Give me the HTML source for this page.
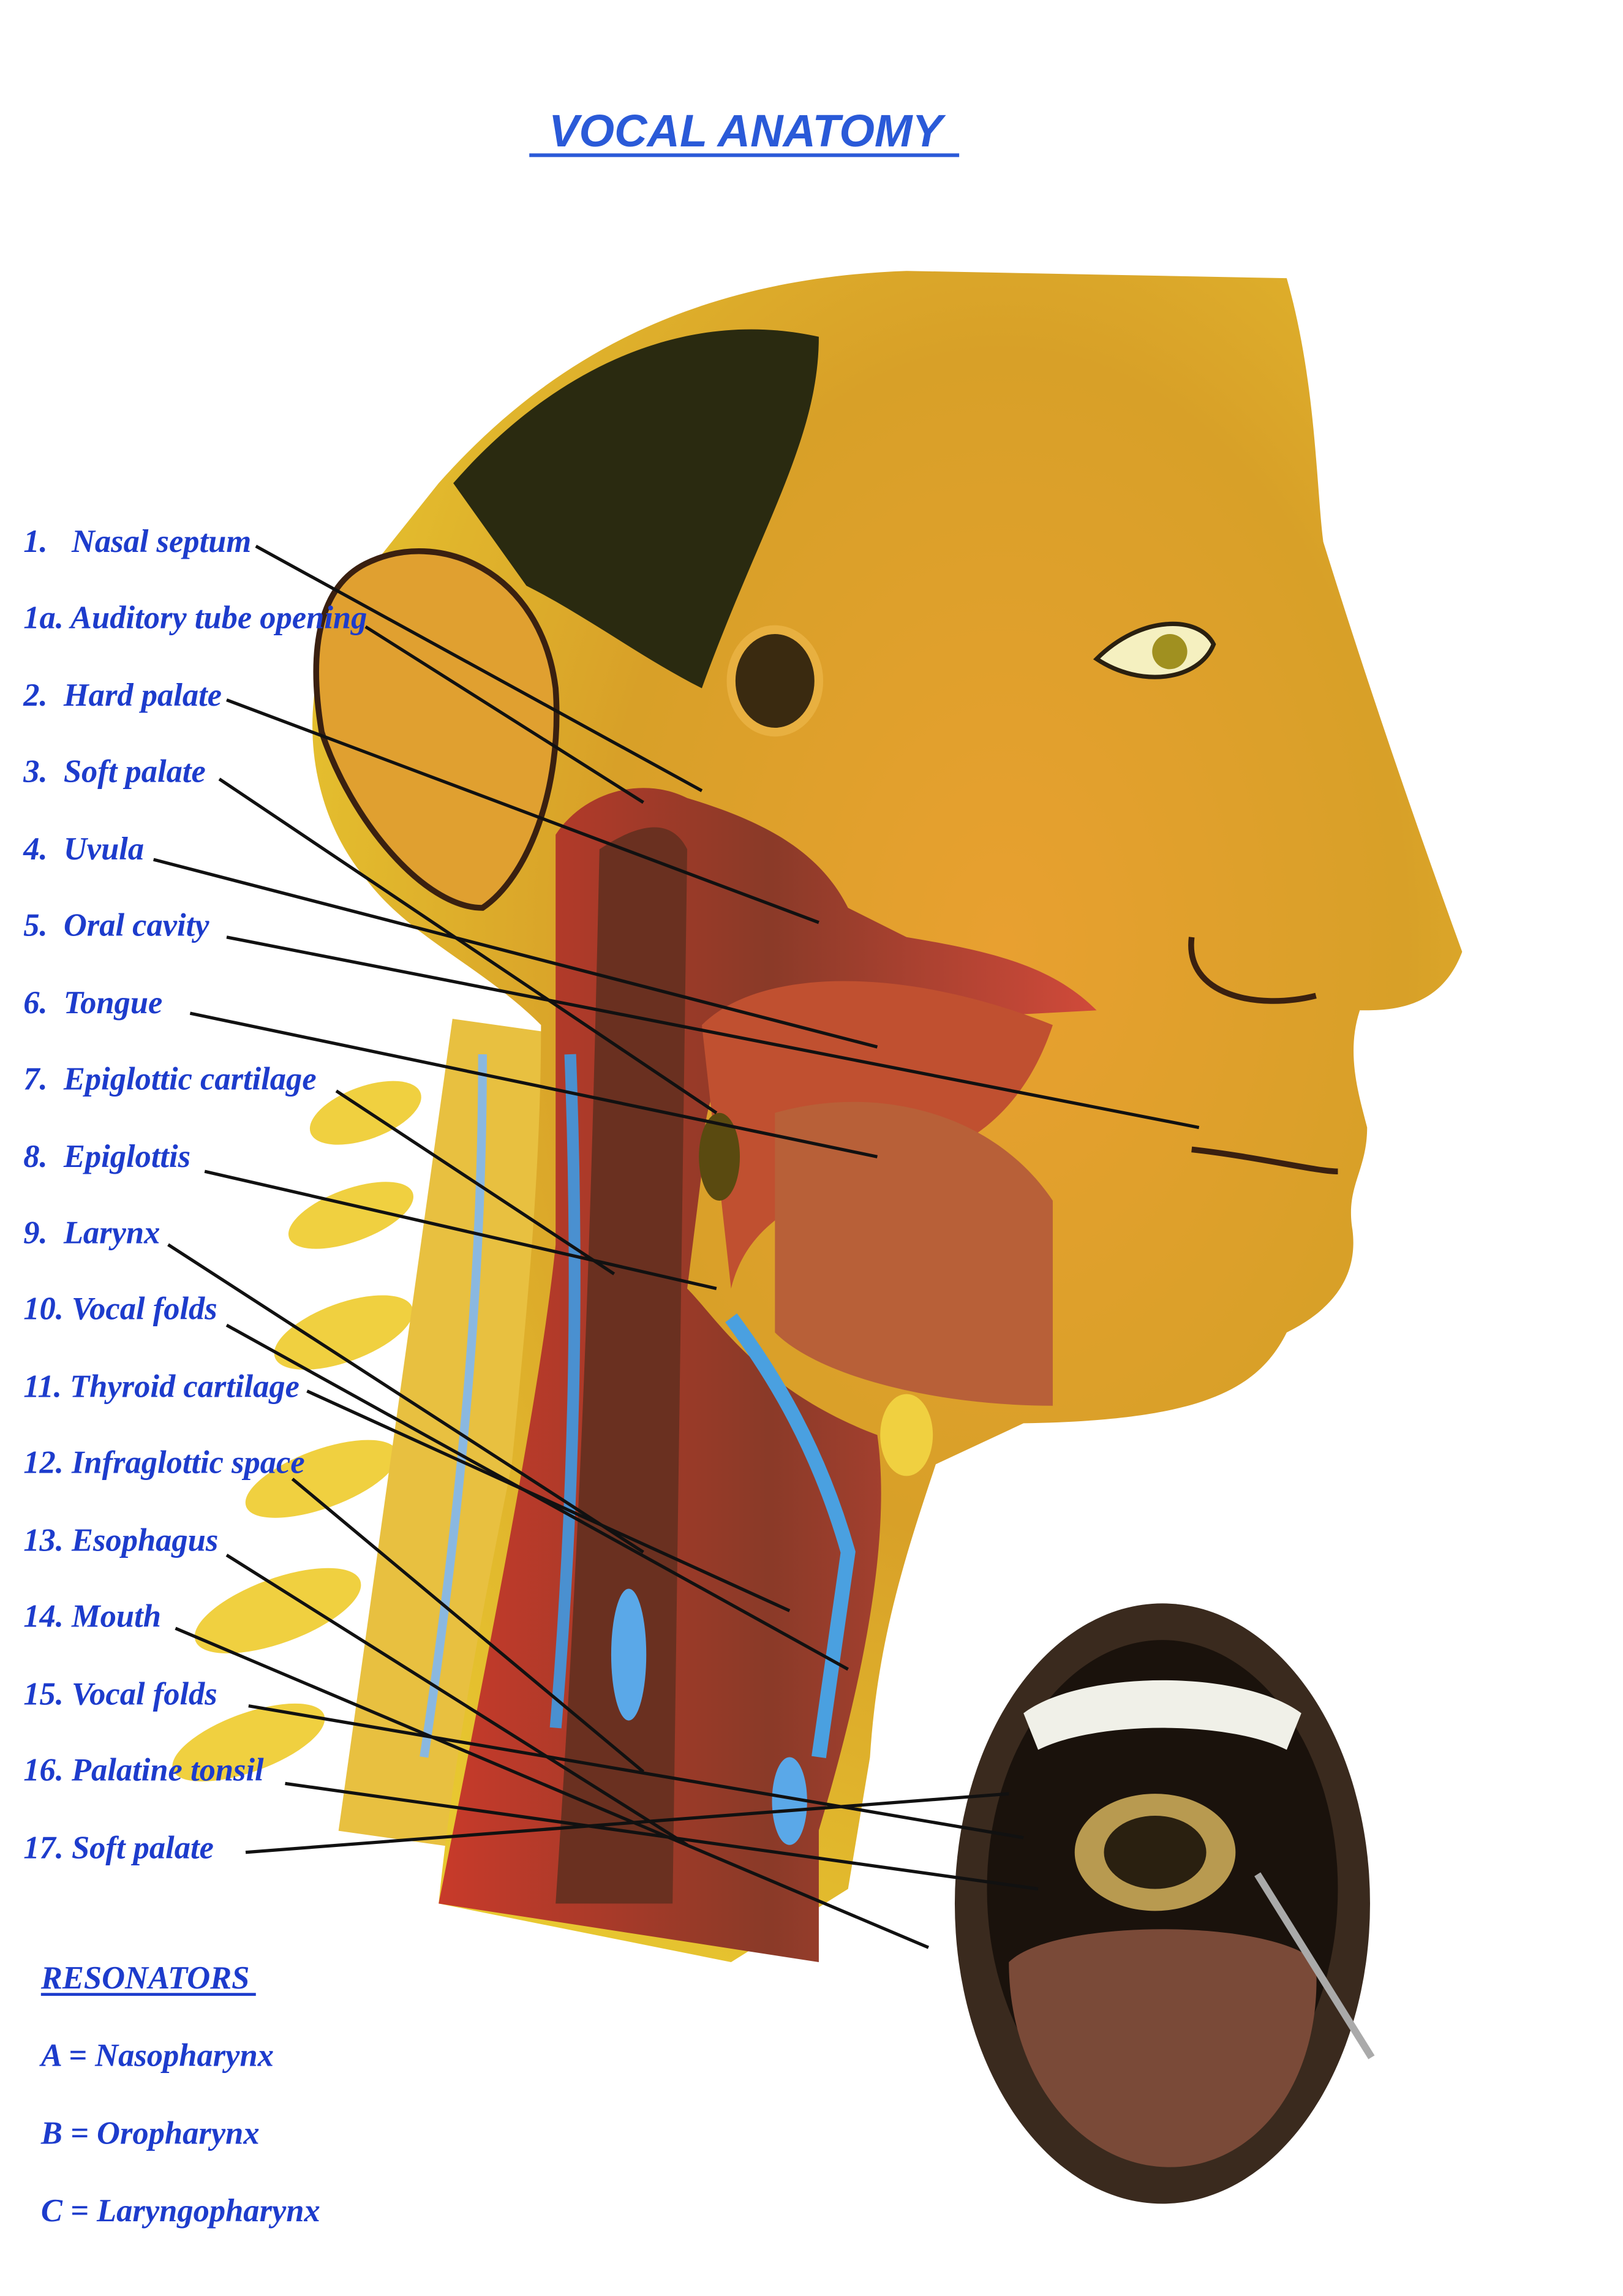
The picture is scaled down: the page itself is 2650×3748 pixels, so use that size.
<!DOCTYPE html>
<html><head><meta charset="utf-8"><style>
html,body{margin:0;padding:0;background:#fff;}
svg{display:block;}
.l{font-family:"Liberation Serif",serif;font-weight:bold;font-style:italic;font-size:22px;fill:#1d3ccc;white-space:pre;}
</style></head><body>
<svg width="2650" height="3748" viewBox="0 0 1110 1568" preserveAspectRatio="none" xmlns="http://www.w3.org/2000/svg">
<defs>
<radialGradient id="face" cx="0.6" cy="0.4" r="0.7">
<stop offset="0" stop-color="#e8a030"/><stop offset="0.5" stop-color="#d8a028"/><stop offset="1" stop-color="#e8c830"/>
</radialGradient>
<linearGradient id="neck" x1="0" y1="0" x2="1" y2="0">
<stop offset="0" stop-color="#c83a2a"/><stop offset="0.5" stop-color="#8a3a28"/><stop offset="1" stop-color="#d04a3a"/>
</linearGradient>
</defs>
<rect width="1110" height="1568" fill="#fff"/>
<text x="510" y="100" text-anchor="middle" font-family="Liberation Sans,sans-serif" font-weight="bold" font-style="italic" font-size="31" fill="#2a5ad8">VOCAL ANATOMY</text>
<line x1="362" y1="106" x2="656" y2="106" stroke="#2a5ad8" stroke-width="2.5"/>
<g fill="#f0d040">
<ellipse cx="250" cy="760" rx="40" ry="18" transform="rotate(-20 250 760)"/>
<ellipse cx="240" cy="830" rx="45" ry="18" transform="rotate(-20 240 830)"/>
<ellipse cx="235" cy="910" rx="50" ry="20" transform="rotate(-20 235 910)"/>
<ellipse cx="220" cy="1010" rx="55" ry="20" transform="rotate(-20 220 1010)"/>
<ellipse cx="190" cy="1100" rx="60" ry="22" transform="rotate(-20 190 1100)"/>
<ellipse cx="170" cy="1190" rx="55" ry="20" transform="rotate(-20 170 1190)"/>
</g>
<rect x="270" y="700" width="110" height="560" fill="#e8c040" transform="rotate(8 320 980)"/>
<path d="M300,330 C380,240 480,190 620,185 L880,190 C900,260 900,330 905,370 C930,450 960,540 1000,650 C985,690 950,690 930,690 C920,720 930,750 935,770 C935,800 920,810 925,840 C930,880 900,900 880,910 C860,950 820,970 700,972 L640,1000 C620,1060 600,1120 595,1200 L580,1290 L500,1340 L300,1300 C310,1200 330,1100 350,1000 C360,900 370,800 370,700 C330,660 280,640 250,600 C200,540 200,440 260,380 Z" fill="url(#face)"/>
<path d="M310,330 C380,250 470,210 560,230 C560,300 520,360 480,470 C440,450 400,420 360,400 Z" fill="#2a2a10"/>
<path d="M250,385 C300,360 370,390 380,470 C385,540 360,600 330,620 C290,620 240,560 220,500 C210,440 220,400 250,385 Z" fill="#e0a030" stroke="#3a2010" stroke-width="4"/>
<ellipse cx="530" cy="465" rx="30" ry="35" fill="#3a2a10" stroke="#e8b040" stroke-width="6"/>
<path d="M750,450 C780,420 820,420 830,440 C820,465 780,470 750,450 Z" fill="#f5f0c0" stroke="#2a2010" stroke-width="3"/>
<circle cx="800" cy="445" r="12" fill="#a09020"/>
<path d="M815,640 C810,680 860,690 900,680" fill="none" stroke="#3a2010" stroke-width="4"/>
<path d="M815,785 C860,790 900,800 915,800" fill="none" stroke="#3a2010" stroke-width="4"/>
<path d="M380,570 C400,540 440,530 470,545 C520,560 560,580 580,620 L620,640 C680,650 720,660 750,690 L560,700 C500,700 480,740 480,800 L470,880 C490,900 520,950 600,980 C610,1050 590,1150 560,1250 L560,1340 L300,1300 C330,1150 370,950 380,850 Z" fill="url(#neck)"/>
<path d="M410,580 C440,560 460,560 470,580 L460,1300 L380,1300 C400,1000 405,800 410,580 Z" fill="#6a3020"/>
<path d="M480,700 C520,660 620,660 720,700 C700,760 660,790 600,800 C540,820 510,840 500,880 Z" fill="#c05030"/>
<path d="M530,760 C600,740 680,760 720,820 L720,960 C640,960 560,940 530,910 Z" fill="#b86038"/>
<path d="M390,720 C395,850 395,1000 380,1180" fill="none" stroke="#4a90d0" stroke-width="8"/>
<path d="M330,720 C330,850 320,1000 290,1200" fill="none" stroke="#8ab8e0" stroke-width="6"/>
<path d="M500,900 C530,940 560,990 580,1060 L560,1200" fill="none" stroke="#4aa0e0" stroke-width="10"/>
<ellipse cx="430" cy="1130" rx="12" ry="45" fill="#5aa8e8"/>
<ellipse cx="540" cy="1230" rx="12" ry="30" fill="#5aa8e8"/>
<ellipse cx="620" cy="980" rx="18" ry="28" fill="#f0d040"/>
<ellipse cx="492" cy="790" rx="14" ry="30" fill="#5a4a10"/>
<ellipse cx="795" cy="1300" rx="142" ry="205" fill="#3a2a1e"/>
<ellipse cx="795" cy="1290" rx="120" ry="170" fill="#1a120c"/>
<path d="M700,1170 C740,1140 850,1140 890,1170 L880,1195 C840,1175 750,1175 710,1195 Z" fill="#f0f0e8"/>
<ellipse cx="790" cy="1265" rx="55" ry="40" fill="#b89a50"/>
<ellipse cx="790" cy="1265" rx="35" ry="25" fill="#2a2010"/>
<path d="M690,1340 C720,1310 870,1310 900,1340 C905,1420 860,1480 800,1480 C740,1480 690,1420 690,1340 Z" fill="#7a4a38"/>
<line x1="860" y1="1280" x2="938" y2="1405" stroke="#aaa" stroke-width="5"/>
<g>
<text x="16" y="377" class="l">1.   Nasal septum</text>
<text x="16" y="429" class="l">1a. Auditory tube opening</text>
<text x="16" y="482" class="l">2.  Hard palate</text>
<text x="16" y="534" class="l">3.  Soft palate</text>
<text x="16" y="587" class="l">4.  Uvula</text>
<text x="16" y="639" class="l">5.  Oral cavity</text>
<text x="16" y="692" class="l">6.  Tongue</text>
<text x="16" y="744" class="l">7.  Epiglottic cartilage</text>
<text x="16" y="797" class="l">8.  Epiglottis</text>
<text x="16" y="849" class="l">9.  Larynx</text>
<text x="16" y="901" class="l">10. Vocal folds</text>
<text x="16" y="954" class="l">11. Thyroid cartilage</text>
<text x="16" y="1006" class="l">12. Infraglottic space</text>
<text x="16" y="1059" class="l">13. Esophagus</text>
<text x="16" y="1111" class="l">14. Mouth</text>
<text x="16" y="1164" class="l">15. Vocal folds</text>
<text x="16" y="1216" class="l">16. Palatine tonsil</text>
<text x="16" y="1269" class="l">17. Soft palate</text>
<text x="28" y="1358" class="l">RESONATORS</text>
<text x="28" y="1411" class="l">A = Nasopharynx</text>
<text x="28" y="1464" class="l">B = Oropharynx</text>
<text x="28" y="1517" class="l">C = Laryngopharynx</text>
</g>
<line x1="28" y1="1362" x2="175" y2="1362" stroke="#1d3ccc" stroke-width="2"/>
<g stroke="#111" stroke-width="2.2">
<line x1="175" y1="373" x2="480" y2="540"/>
<line x1="250" y1="428" x2="440" y2="548"/>
<line x1="155" y1="478" x2="560" y2="630"/>
<line x1="150" y1="532" x2="490" y2="760"/>
<line x1="105" y1="587" x2="600" y2="715"/>
<line x1="155" y1="640" x2="820" y2="770"/>
<line x1="130" y1="692" x2="600" y2="790"/>
<line x1="230" y1="745" x2="420" y2="870"/>
<line x1="140" y1="800" x2="490" y2="880"/>
<line x1="115" y1="850" x2="440" y2="1060"/>
<line x1="155" y1="905" x2="580" y2="1140"/>
<line x1="210" y1="950" x2="540" y2="1100"/>
<line x1="200" y1="1010" x2="440" y2="1210"/>
<line x1="155" y1="1062" x2="470" y2="1260"/>
<line x1="120" y1="1112" x2="635" y2="1330"/>
<line x1="170" y1="1165" x2="700" y2="1255"/>
<line x1="195" y1="1218" x2="710" y2="1290"/>
<line x1="168" y1="1265" x2="690" y2="1225"/>
</g>
</svg>
</body></html>
